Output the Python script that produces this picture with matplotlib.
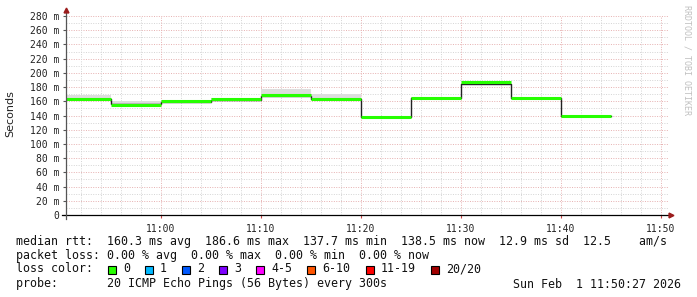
import matplotlib
matplotlib.use("Agg")
import matplotlib.pyplot as plt
from matplotlib.patches import Rectangle

# 5-minute bins, minutes relative to 11:00 (bin start)
bin_start = [-10, -5, 0, 5, 10, 15, 20, 25, 30, 35, 40]
median_ms = [163.5, 155.0, 160.4, 162.6, 168.4, 163.7, 137.9, 165.0, 187.4, 165.0, 139.5]
line_ms = [163.5, 155.5, 158.6, 162.0, 166.8, 163.0, 138.0, 165.0, 185.0, 165.0, 139.5]
smoke_hi = [169.0, 161.0, 161.5, 164.0, 177.0, 170.0, 139.0, 166.5, 189.0, 166.5, 140.5]

y_ticks = list(range(0, 281, 20))
y_labels = ["0"] + ["%d m" % v for v in y_ticks[1:]]
x_ticks = [0, 10, 20, 30, 40, 50]
x_labels = ["11:00", "11:10", "11:20", "11:30", "11:40", "11:50"]

loss_labels = ["0", "1", "2", "3", "4-5", "6-10", "11-19", "20/20"]
loss_colors = ["#26ff00", "#00b8ff", "#0059ff", "#7e00ff", "#ff00ff", "#ff5500", "#ff0000", "#a10000"]
loss_box_x = [108, 145, 182, 219, 256, 307, 366, 431]

W, H = 697, 297
fig = plt.figure(figsize=(W / 100, H / 100), dpi=100)
fig.patch.set_facecolor("white")
ax = fig.add_axes([66 / W, (H - 215) / H, (668 - 66) / W, (215 - 16) / H])

x0, x1 = -9.5, 50.7
ax.set_xlim(x0, x1)
ax.set_ylim(0, 280)

# grid
grid_kw = dict(linestyle=(0, (1, 1.5)), linewidth=0.7, zorder=0)
for v in range(10, 280, 20):
    ax.axhline(v, color="#d4d4d4", **grid_kw)
for v in range(20, 281, 20):
    ax.axhline(v, color="#e6b0b0", **grid_kw)
for m in range(-8, 51, 2):
    if m % 10:
        ax.axvline(m, color="#d4d4d4", **grid_kw)
for m in x_ticks:
    ax.axvline(m, color="#e6b0b0", **grid_kw)

# smoke
for s, lo, hi in zip(bin_start, median_ms, smoke_hi):
    ax.fill_between([s, s + 5], lo, hi, color="#dddddd", linewidth=0, zorder=1)

# step line
xs, ys = [], []
for s, v in zip(bin_start, line_ms):
    xs += [s, s + 5]
    ys += [v, v]
ax.plot(xs, ys, color="#222222", linewidth=1.0, zorder=2)

# median coloured by loss
ax.hlines(median_ms, bin_start, [s + 5 for s in bin_start],
          color=loss_colors[0], linewidth=2.2, zorder=3)

for sp in ax.spines.values():
    sp.set_visible(False)

# axes lines and arrows
ax.plot([x0 - 0.4, x1 + 0.3], [0, 0], color="black", linewidth=0.9, clip_on=False, zorder=4)
ax.plot([x0, x0], [-5, 287], color="#555555", linewidth=0.9, clip_on=False, zorder=4)
ax.plot([x0], [289], marker="^", color="#9b1c1c", markersize=3.5, clip_on=False, zorder=5)
ax.plot([x1 + 0.3], [0], marker=">", color="#9b1c1c", markersize=3.5, clip_on=False, zorder=5)

mono = "DejaVu Sans Mono"
ax.set_yticks(y_ticks)
ax.set_yticklabels(y_labels, fontfamily=mono, fontsize=7, color="#222222")
ax.set_xticks(x_ticks)
ax.set_xticklabels(x_labels, fontfamily=mono, fontsize=7, color="#222222")
ax.tick_params(axis="y", length=2, width=0.8, color="#555555", pad=3)
ax.tick_params(axis="x", length=2.5, width=0.8, color="#cc4444", pad=4)

fig.text(10 / W, 1 - 114 / H, "Seconds", rotation=90, ha="center", va="center",
         fontsize=8, color="#222222")
fig.text(687 / W, 1 - 5 / H, "RRDTOOL / TOBI OETIKER", rotation=270, ha="center", va="top",
         fontfamily=mono, fontsize=6, color="#c0c0c0")

fs = 8.35
txt = dict(fontfamily=mono, fontsize=fs, color="#111111", va="center", ha="left")
fig.text(16 / W, 1 - 241 / H,
         "median rtt:  160.3 ms avg  186.6 ms max  137.7 ms min  138.5 ms now  12.9 ms sd  12.5    am/s", **txt)
fig.text(16 / W, 1 - 255 / H, "packet loss: 0.00 % avg  0.00 % max  0.00 % min  0.00 % now", **txt)
fig.text(16 / W, 1 - 269 / H, "loss color:", **txt)
for lbl, col, bx in zip(loss_labels, loss_colors, loss_box_x):
    fig.patches.append(Rectangle((bx / W, 1 - 273.5 / H), 8 / W, 8 / H, transform=fig.transFigure,
                                 facecolor=col, edgecolor="black", linewidth=0.8, figure=fig))
    fig.text((bx + 15) / W, 1 - 269 / H, lbl, **txt)
fig.text(16 / W, 1 - 284 / H, "probe:       20 ICMP Echo Pings (56 Bytes) every 300s", **txt)
fig.text(681 / W, 1 - 284 / H, "Sun Feb  1 11:50:27 2026",
         fontfamily=mono, fontsize=fs, color="#111111", va="center", ha="right")

fig.savefig("out.png", dpi=100, facecolor="white")
